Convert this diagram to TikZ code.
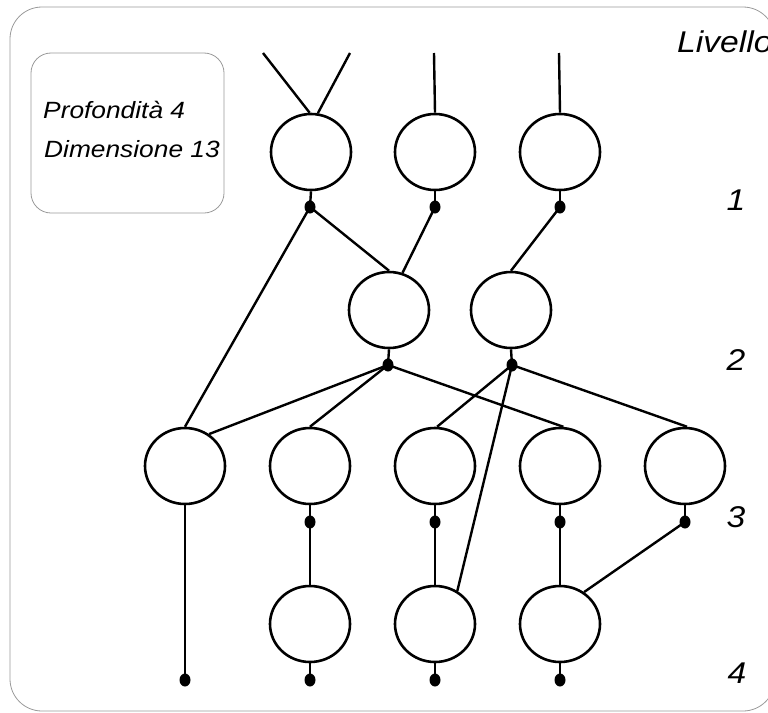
\documentclass[tikz,border=0pt]{standalone}
\usepackage{fontspec}
\usetikzlibrary{shapes.geometric}
\newfontfamily\lblfont[FakeStretch=1.12]{Liberation Sans}
\begin{document}
\begin{tikzpicture}[x=1pt,y=-1pt,
  unit/.style={ellipse,draw=black,line width=2.6pt,minimum width=80pt,minimum height=76pt,inner sep=0pt,fill=white},
  pin/.style={ellipse,fill=black,minimum width=11pt,minimum height=13pt,inner sep=0pt},
  link/.style={line width=2.4pt,black},
  frame/.style={draw=black!40,line width=0.8pt},
  boxtext/.style={anchor=base west,font=\lblfont\itshape\fontsize{23.5}{27}\selectfont,inner sep=0pt},
  levtext/.style={font=\lblfont\itshape\fontsize{30}{34}\selectfont,inner sep=0pt}]
\useasboundingbox (0,0) rectangle (768,712);

% outer frame and info box
\draw[frame,rounded corners=32pt] (10,7) rectangle (775,711);
\draw[frame,rounded corners=20pt] (31,53) rectangle (224,213);
\node[boxtext] (prof) at (43,118) {Profondità 4};
\node[boxtext] (dim) at (44,157) {Dimensione 13};

% level labels
\node[levtext,anchor=base west] (liv) at (677,52) {Livello};
\node[levtext] (l1) at (736,200) {1};
\node[levtext] (l2) at (736,360) {2};
\node[levtext] (l3) at (736,517) {3};
\node[levtext] (l4) at (737,673) {4};

% free ends of the incoming lines
\coordinate (t1) at (263,53);
\coordinate (t2) at (350,53);
\coordinate (t3) at (434,53);
\coordinate (t4) at (559,53);

% units
\node[unit] (a1) at (311,152) {};
\node[unit] (a2) at (435,152) {};
\node[unit] (a3) at (560,152) {};
\node[unit] (b1) at (389,310) {};
\node[unit] (b2) at (511,310) {};
\node[unit] (c1) at (185,466) {};
\node[unit] (c2) at (310,466) {};
\node[unit] (c3) at (435,466) {};
\node[unit] (c4) at (560,466) {};
\node[unit] (c5) at (685,466) {};
\node[unit] (d1) at (310,624) {};
\node[unit] (d2) at (435,624) {};
\node[unit] (d3) at (560,624) {};

% output points
\node[pin] (pa1) at (310,207) {};
\node[pin] (pa2) at (435,207) {};
\node[pin] (pa3) at (560,207) {};
\node[pin] (pb1) at (388,365) {};
\node[pin] (pb2) at (512,365) {};
\node[pin] (pc2) at (310,522) {};
\node[pin] (pc3) at (435,522) {};
\node[pin] (pc4) at (560,522) {};
\node[pin] (pc5) at (685,522) {};
\node[pin] (pc1) at (185,680) {};
\node[pin] (pd1) at (310,680) {};
\node[pin] (pd2) at (435,680) {};
\node[pin] (pd3) at (560,680) {};

% inputs
\draw[link] (t1) -- (a1.92);
\draw[link] (t2) -- (a1.80);
\draw[link] (t3) -- (a2.north);
\draw[link] (t4) -- (a3.north);

% stems
\foreach \u/\p in {a1/pa1,a2/pa2,a3/pa3,b1/pb1,b2/pb2,c1/pc1,c2/pc2,c3/pc3,c4/pc4,c5/pc5,d1/pd1,d2/pd2,d3/pd3}
  \draw[link] (\u.south) -- (\p.center);

% connections
\draw[link] (pa1.center) -- (b1.north);
\draw[link] (pa1.center) -- (c1.north);
\draw[link] (pa2.center) -- (b1.70);
\draw[link] (pa3.center) -- (b2.north);
\draw[link] (pb1.center) -- (c1.53);
\draw[link] (pb1.center) -- (c2.north);
\draw[link] (pb1.center) -- (c4.85);
\draw[link] (pb2.center) -- (c3.87);
\draw[link] (pb2.center) -- (d2.56);
\draw[link] (pb2.center) -- (c5.87);
\draw[link] (pc2.center) -- (d1.north);
\draw[link] (pc3.center) -- (d2.north);
\draw[link] (pc4.center) -- (d3.north);
\draw[link] (pc5.center) -- (d3.53);
\end{tikzpicture}
\end{document}
